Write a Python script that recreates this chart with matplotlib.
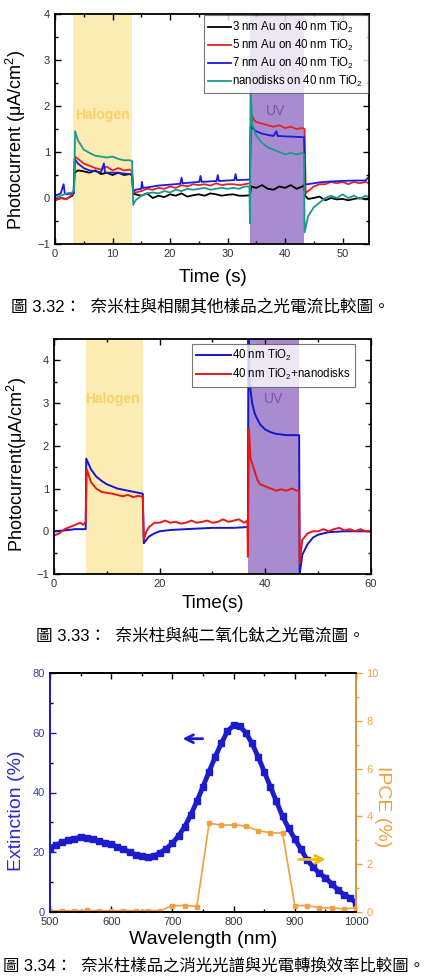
import numpy as np
import matplotlib
matplotlib.use("Agg")
import matplotlib.pyplot as plt
from matplotlib.ticker import MultipleLocator

plt.rcParams['font.family'] = ['Liberation Sans', 'Noto Sans CJK TC', 'DejaVu Sans']
plt.rcParams['mathtext.fontset'] = 'custom'
plt.rcParams['mathtext.rm'] = 'Liberation Sans'
plt.rcParams['mathtext.it'] = 'Liberation Sans:italic'

# ---------------- data: figure 3.32 ----------------
halogen_1 = (3.2, 13.4)
uv_1 = (33.9, 43.3)
labels_1 = ['3 nm Au on 40 nm TiO$_2$', '5 nm Au on 40 nm TiO$_2$',
            '7 nm Au on 40 nm TiO$_2$', 'nanodisks on 40 nm TiO$_2$']

au3 = [(0, -0.05), (1, 0.0), (2, -0.02), (3, 0.05), (3.2, 0.1), (3.4, 0.55), (4, 0.6), (5, 0.58),
       (6, 0.55), (7, 0.6), (8, 0.52), (9, 0.55), (10, 0.5), (11, 0.55), (12, 0.5), (13, 0.52),
       (13.4, 0.5), (13.6, 0.1), (14, 0.08), (15, 0.05), (16, 0.1), (17, 0.0), (18, 0.05), (19, 0.02),
       (20, 0.08), (21, 0.05), (22, 0.1), (23, 0.03), (24, 0.06), (25, 0.08), (26, 0.05), (27, 0.1),
       (28, 0.08), (29, 0.05), (30, 0.07), (31, 0.08), (32, 0.05), (33, 0.05), (33.9, 0.06),
       (34.1, 0.25), (35, 0.22), (36, 0.28), (37, 0.2), (38, 0.18), (39, 0.25), (40, 0.22), (41, 0.28),
       (42, 0.2), (43, 0.25), (43.3, 0.28), (43.5, 0.05), (44, -0.02), (45, 0.0), (46, 0.03),
       (47, -0.05), (48, 0.0), (49, -0.03), (50, -0.02), (51, -0.05), (52, -0.02), (53, 0.0),
       (54, -0.03), (55, -0.02)]

au5 = [(0, -0.05), (1, 0.0), (2, -0.03), (3, 0.08), (3.3, 0.1), (3.5, 0.9), (4, 0.85), (5, 0.75),
       (6, 0.7), (7, 0.65), (8, 0.62), (9, 0.68), (10, 0.6), (11, 0.65), (12, 0.6), (13, 0.62),
       (13.4, 0.58), (13.6, 0.15), (14, 0.12), (15, 0.15), (16, 0.2), (17, 0.18), (18, 0.22), (19, 0.2),
       (20, 0.25), (21, 0.22), (22, 0.28), (23, 0.25), (24, 0.3), (25, 0.28), (26, 0.3), (27, 0.27),
       (28, 0.32), (29, 0.28), (30, 0.3), (31, 0.3), (32, 0.28), (33, 0.3), (33.9, 0.32), (34.1, 1.85),
       (34.6, 1.7), (35, 1.65), (36, 1.62), (37, 1.58), (38, 1.55), (39, 1.58), (40, 1.52), (41, 1.55),
       (42, 1.5), (43, 1.52), (43.4, 1.5), (43.6, 0.1), (44, 0.15), (45, 0.25), (46, 0.3), (47, 0.3),
       (48, 0.35), (49, 0.32), (50, 0.35), (51, 0.3), (52, 0.35), (53, 0.32), (54, 0.35), (55, 0.3)]

au7 = [(0, 0.05), (1, 0.1), (1.5, 0.3), (1.7, 0.1), (2, 0.08), (3, 0.1), (3.3, 0.12), (3.4, 0.85),
       (4, 0.75), (5, 0.65), (6, 0.6), (7, 0.58), (8, 0.56), (8.5, 0.75), (8.7, 0.56), (9, 0.55),
       (10, 0.55), (11, 0.55), (12, 0.53), (13, 0.52), (13.4, 0.5), (13.6, 0.15), (14, 0.18), (15, 0.2),
       (15.1, 0.35), (15.3, 0.22), (16, 0.23), (18, 0.27), (21.8, 0.31), (22, 0.44), (22.2, 0.32),
       (24, 0.34), (25.1, 0.35), (25.3, 0.48), (25.5, 0.35), (28.1, 0.37), (28.3, 0.5), (28.5, 0.37),
       (30, 0.38), (31.2, 0.39), (31.4, 0.52), (31.6, 0.39), (33.9, 0.4), (34.0, 1.55), (35, 1.45),
       (36, 1.4), (37, 1.37), (38, 1.35), (38.5, 1.45), (38.7, 1.35), (40, 1.34), (42, 1.33),
       (43.3, 1.32), (43.5, 0.3), (44, 0.3), (45, 0.32), (46, 0.34), (48, 0.36), (50, 0.37),
       (52, 0.38), (54, 0.38), (54.5, 0.45), (55, 0.4)]

disks_1 = [(0, 0.0), (1, 0.05), (2, 0.1), (3, 0.12), (3.3, 0.15), (3.5, 1.45), (4, 1.25), (5, 1.05),
           (6, 0.98), (7, 0.92), (8, 0.9), (9, 0.88), (10, 0.9), (11, 0.85), (12, 0.82), (13, 0.82),
           (13.4, 0.8), (13.6, -0.15), (14, -0.05), (15, 0.05), (16, 0.1), (17, 0.12), (18, 0.1),
           (19, 0.15), (20, 0.12), (21, 0.18), (22, 0.15), (23, 0.2), (24, 0.18), (25, 0.2), (26, 0.22),
           (27, 0.18), (28, 0.2), (29, 0.22), (30, 0.2), (31, 0.22), (32, 0.2), (33, 0.25), (33.8, 0.25),
           (33.9, -0.55), (34.0, 2.45), (34.3, 1.6), (35, 1.35), (36, 1.2), (37, 1.1), (38, 1.05),
           (39, 1.0), (40, 0.95), (41, 0.98), (42, 0.95), (43, 0.98), (43.3, 0.95), (43.4, -0.75),
           (44, -0.4), (45, -0.2), (46, -0.1), (47, 0.0), (48, 0.05), (49, 0.0), (50, 0.08), (51, 0.0),
           (52, 0.05), (53, -0.02), (54, 0.05), (55, 0.0)]

# ---------------- data: figure 3.33 ----------------
halogen_2 = (6.0, 16.8)
uv_2 = (36.7, 46.4)
labels_2 = ['40 nm TiO$_2$', '40 nm TiO$_2$+nanodisks']

tio2 = [(0, 0.0), (2, 0.02), (4, 0.05), (6, 0.05), (6.1, 1.7), (7, 1.45), (8, 1.28), (9, 1.18),
        (10, 1.1), (11, 1.05), (12, 1.0), (14, 0.95), (16, 0.9), (16.8, 0.88), (17, -0.28),
        (18, -0.12), (19, -0.05), (20, 0.0), (22, 0.03), (25, 0.05), (30, 0.08), (34, 0.08),
        (36.7, 0.1), (36.8, 4.6), (37, 3.5), (37.5, 3.0), (38, 2.75), (39, 2.5), (40, 2.38),
        (41, 2.32), (42, 2.28), (44, 2.25), (46.4, 2.25), (46.5, -1.0), (47, -0.55), (48, -0.3),
        (49, -0.15), (50, -0.08), (52, -0.02), (55, 0.0), (58, 0.0), (60, 0.0)]

tio2_disks = [(0, -0.1), (1, -0.05), (2, 0.05), (3, 0.1), (4, 0.15), (5, 0.2), (5.5, 0.15), (6, 0.22),
              (6.2, 1.45), (7, 1.15), (8, 1.0), (9, 0.92), (10, 0.9), (11, 0.88), (12, 0.85), (13, 0.82),
              (14, 0.85), (15, 0.8), (16, 0.83), (16.8, 0.8), (17, -0.2), (17.5, 0.0), (18, 0.1), (19, 0.2),
              (20, 0.2), (21, 0.25), (22, 0.2), (23, 0.22), (24, 0.18), (25, 0.2), (26, 0.25), (27, 0.2),
              (28, 0.22), (29, 0.25), (30, 0.2), (31, 0.22), (32, 0.28), (33, 0.22), (34, 0.25),
              (35, 0.28), (36, 0.2), (36.6, 0.25), (36.7, -0.6), (36.9, 2.4), (37.2, 1.7), (38, 1.4),
              (38.5, 1.2), (39, 1.1), (40, 1.05), (41, 1.0), (42, 0.95), (43, 0.98), (44, 0.95),
              (45, 1.0), (46, 0.95), (46.4, 0.95), (46.5, -0.75), (47, -0.2), (48, -0.05), (49, 0.0),
              (50, 0.0), (51, 0.05), (52, 0.0), (53, 0.05), (54, 0.08), (55, 0.02), (56, 0.05), (57, 0.0),
              (58, 0.05), (59, 0.0), (60, 0.0)]

# ---------------- data: figure 3.34 ----------------
ext_wl = [500, 510, 520, 530, 540, 550, 560, 570, 580, 590, 600, 610, 620, 630, 640, 650, 660, 670,
          680, 690, 700, 710, 720, 730, 740, 750, 760, 770, 780, 790, 800, 810, 820, 830, 840, 850,
          860, 870, 880, 890, 900, 910, 920, 930, 940, 950, 960, 970, 980, 990, 1000]
extinction = [21.5, 22.5, 23.3, 24.0, 24.6, 25.0, 24.8, 24.4, 23.8, 23.2, 22.6, 21.8, 21.0, 20.0,
              19.2, 18.7, 18.4, 18.8, 19.8, 21.2, 23.0, 25.5, 28.5, 32.5, 37.0, 42.0, 47.0, 52.0,
              56.5, 60.5, 62.5, 62.2, 60.0, 56.5, 52.0, 47.0, 42.0, 37.0, 32.0, 28.0, 24.5, 21.0,
              17.5, 15.0, 13.0, 11.5, 9.5, 7.5, 5.8, 4.8, 3.0]
ipce_wl = [500, 520, 540, 560, 580, 600, 620, 640, 660, 680, 700, 720, 740, 760, 780, 800, 820,
           840, 860, 880, 900, 920, 940, 960, 980, 1000]
ipce = [0.05, 0.05, 0.05, 0.07, 0.05, 0.05, 0.06, 0.05, 0.06, 0.05, 0.27, 0.27, 0.23, 3.72, 3.63,
        3.65, 3.6, 3.4, 3.32, 3.3, 0.27, 0.27, 0.18, 0.17, 0.13, 0.17]

captions = ['圖 3.32：  奈米柱與相關其他樣品之光電流比較圖。',
            '圖 3.33：  奈米柱與純二氧化鈦之光電流圖。',
            '圖 3.34：  奈米柱樣品之消光光譜與光電轉換效率比較圖。']

W, H = 431, 976
HAL_FILL = '#fcebb3'
UV_FILL = '#a98ccf'
HAL_TXT = '#f6d268'
UV_TXT = '#7a55a8'
EXT_C = '#1c1ccc'
IPCE_C = '#f0a040'


def rect(l, t, r, b):
    # pixel box -> figure fraction
    return [l / W, 1 - b / H, (r - l) / W, (b - t) / H]


def ftext(x, y, s, **kw):
    fig.text(x / W, 1 - y / H, s, ha=kw.pop('ha', 'center'), va=kw.pop('va', 'center'), **kw)


def style_axes(ax):
    ax.tick_params(which='both', direction='in', top=True, right=True, labelsize=8,
                   labelcolor='#333333', width=1)
    ax.tick_params(which='major', length=4)
    ax.tick_params(which='minor', length=2)
    for s in ax.spines.values():
        s.set_linewidth(1.3)


def pair(trace):
    a = np.array(trace)
    return a[:, 0], a[:, 1]


fig = plt.figure(figsize=(W / 100, H / 100), dpi=100)

# ---------- panel 1 ----------
ax1 = fig.add_axes(rect(55, 14, 369, 244))
ax1.axvspan(*halogen_1, color=HAL_FILL, lw=0, zorder=0)
ax1.axvspan(*uv_1, color=UV_FILL, lw=0, zorder=0)
for tr, c, lab in zip([au3, au5, au7, disks_1], ['black', '#e8202a', '#1a1ae0', '#1a9a8c'], labels_1):
    x, y = pair(tr)
    ax1.plot(x, y, color=c, lw=1.3, label=lab)
ax1.set_xlim(0, 54.6)
ax1.set_ylim(-1, 4)
ax1.xaxis.set_major_locator(MultipleLocator(10))
ax1.xaxis.set_minor_locator(MultipleLocator(5))
ax1.yaxis.set_major_locator(MultipleLocator(1))
ax1.yaxis.set_minor_locator(MultipleLocator(0.5))
style_axes(ax1)
ax1.text(8.3, 1.8, 'Halogen', color=HAL_TXT, fontsize=10, fontweight='bold', ha='center', va='center')
ax1.text(38.4, 1.9, 'UV', color=UV_TXT, fontsize=10, ha='center', va='center')
ax1.legend(loc='upper right', bbox_to_anchor=(1.0, 1.0), fontsize=8.3, frameon=True, fancybox=False,
           edgecolor='#555555', borderaxespad=0.1, handlelength=2.0, handletextpad=0.1,
           labelspacing=0.25, borderpad=0.4).get_frame().set_linewidth(0.8)
ftext(16, 140, 'Photocurrent (μA/cm$^2$)', rotation=90, fontsize=13)
ftext(213, 277, 'Time (s)', fontsize=13.5)
ftext(200, 306, captions[0], fontsize=12)

# ---------- panel 2 ----------
ax2 = fig.add_axes(rect(54, 339, 371, 574))
ax2.axvspan(*halogen_2, color=HAL_FILL, lw=0, zorder=0)
ax2.axvspan(*uv_2, color=UV_FILL, lw=0, zorder=0)
for tr, c, lab in zip([tio2, tio2_disks], ['#1515d0', '#e81818'], labels_2):
    x, y = pair(tr)
    ax2.plot(x, y, color=c, lw=1.4, label=lab)
ax2.set_xlim(0, 60)
ax2.set_ylim(-1, 4.5)
ax2.xaxis.set_major_locator(MultipleLocator(20))
ax2.xaxis.set_minor_locator(MultipleLocator(10))
ax2.yaxis.set_major_locator(MultipleLocator(1))
ax2.yaxis.set_minor_locator(MultipleLocator(0.5))
style_axes(ax2)
ax2.text(11.0, 3.1, 'Halogen', color=HAL_TXT, fontsize=10, fontweight='bold', ha='center', va='center')
ax2.text(41.6, 3.1, 'UV', color=UV_TXT, fontsize=10, ha='center', va='center')
ax2.legend(loc='upper right', bbox_to_anchor=(0.95, 0.98), fontsize=8.3, frameon=True, fancybox=False,
           edgecolor='#555555', borderaxespad=0, handlelength=3.0, handletextpad=0.1,
           labelspacing=0.3, borderpad=0.4).get_frame().set_linewidth(0.8)
ftext(17, 464, 'Photocurrent(μA/cm$^2$)', rotation=90, fontsize=13)
ftext(213, 603, 'Time(s)', fontsize=13.5)
ftext(200, 636, captions[1], fontsize=12)

# ---------- panel 3 ----------
ax3 = fig.add_axes(rect(50, 673, 356, 912))
ax3.plot(ext_wl, extinction, color=EXT_C, lw=3.5, marker='s', ms=4, zorder=3)
ax3.set_xlim(500, 1000)
ax3.set_ylim(0, 80)
ax3.xaxis.set_major_locator(MultipleLocator(100))
ax3.xaxis.set_minor_locator(MultipleLocator(50))
ax3.yaxis.set_major_locator(MultipleLocator(20))
ax3.yaxis.set_minor_locator(MultipleLocator(10))
ax3.tick_params(which='both', direction='in', top=True, right=False, labelsize=8, width=1)
ax3.tick_params(axis='x', labelcolor='#333333')
ax3.tick_params(axis='y', colors=EXT_C, labelcolor='#3a3ab0')
ax3.tick_params(which='major', length=4)
ax3.tick_params(which='minor', length=2)
ax3.spines['left'].set_color(EXT_C)
for s in ax3.spines.values():
    s.set_linewidth(1.3)
ax3.annotate('', xy=(712, 58), xytext=(754, 58),
             arrowprops=dict(arrowstyle='->', color=EXT_C, lw=2, mutation_scale=14))

ax4 = ax3.twinx()
ax4.plot(ipce_wl, ipce, color=IPCE_C, lw=1.2, marker='s', ms=2.5)
ax4.set_ylim(0, 10)
ax4.yaxis.set_major_locator(MultipleLocator(2))
ax4.yaxis.set_minor_locator(MultipleLocator(1))
ax4.tick_params(which='both', direction='out', colors=IPCE_C, labelsize=8, width=1)
ax4.tick_params(which='major', length=4)
ax4.tick_params(which='minor', length=2)
ax4.spines['right'].set_color(IPCE_C)
ax4.spines['left'].set_color(EXT_C)
for s in ax4.spines.values():
    s.set_linewidth(1.3)
ax4.annotate('', xy=(955, 2.2), xytext=(902, 2.2),
             arrowprops=dict(arrowstyle='->', color='#f5b800', lw=2, mutation_scale=14))

ftext(17, 811, 'Extinction (%)', rotation=90, fontsize=14, color='#2b2bd0')
ftext(383, 807, 'IPCE (%)', rotation=-90, fontsize=14, color=IPCE_C)
ftext(203, 940, 'Wavelength (nm)', fontsize=14)
ftext(3, 966, captions[2], fontsize=11.8, ha='left', va='center')

fig.savefig('out.png', dpi=100)
